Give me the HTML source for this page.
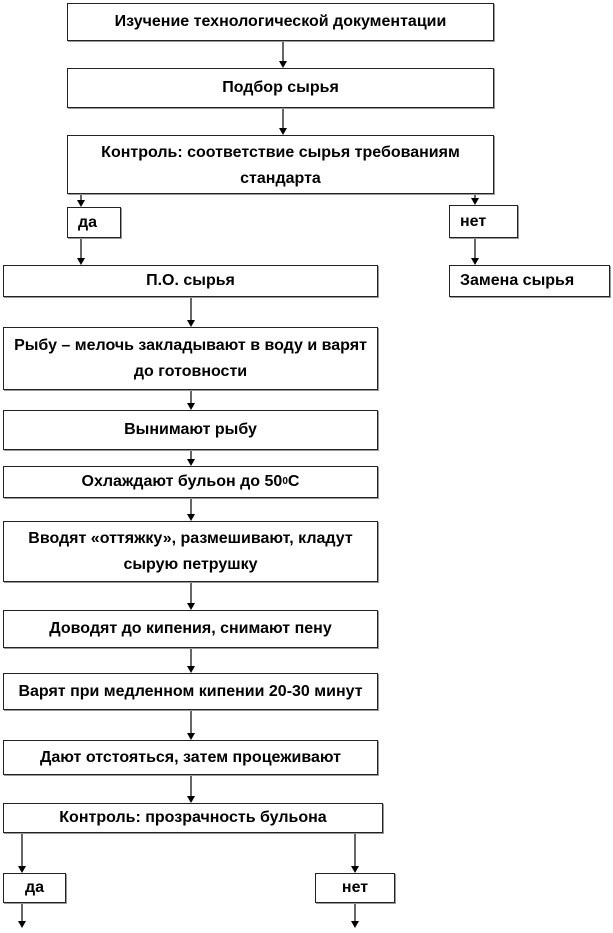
<!DOCTYPE html>
<html><head><meta charset="utf-8"><style>
body{margin:0;width:613px;height:933px;background:#fff;position:relative;overflow:hidden;font-family:"Liberation Sans",sans-serif;}
.b{position:absolute;box-sizing:border-box;border:1px solid #222;background:#fff;box-shadow:1px 1px 0 #999;font-weight:bold;font-size:16px;letter-spacing:0;display:flex;align-items:center;justify-content:center;text-align:center;line-height:26px;color:#000;white-space:nowrap}
.l{justify-content:flex-start;padding-left:10px}
svg{position:absolute;left:0;top:0}
</style></head><body>
<svg width="613" height="933">
<g stroke="#000" stroke-width="1.2">
<line x1="283" y1="41" x2="283" y2="62"/>
<line x1="283" y1="108" x2="283" y2="129"/>
<line x1="81" y1="172" x2="81" y2="201"/>
<line x1="475" y1="172" x2="475" y2="199"/>
<line x1="81" y1="238" x2="81" y2="259"/>
<line x1="475" y1="238" x2="475" y2="259"/>
<line x1="191" y1="297" x2="191" y2="321"/>
<line x1="191" y1="390" x2="191" y2="404"/>
<line x1="191" y1="450" x2="191" y2="460"/>
<line x1="191" y1="498" x2="191" y2="515"/>
<line x1="191" y1="582" x2="191" y2="604"/>
<line x1="191" y1="648" x2="191" y2="667"/>
<line x1="191" y1="710" x2="191" y2="734"/>
<line x1="191" y1="775" x2="191" y2="797"/>
<line x1="22" y1="833" x2="22" y2="867"/>
<line x1="355" y1="833" x2="355" y2="867"/>
<line x1="22" y1="903" x2="22" y2="922"/>
<line x1="355" y1="903" x2="355" y2="922"/>
</g>
<g fill="#000">
<path d="M279,61h8l-4,7z"/><path d="M279,128h8l-4,7z"/>
<path d="M77,200h8l-4,7z"/><path d="M471,198h8l-4,7z"/>
<path d="M77,258h8l-4,7z"/><path d="M471,258h8l-4,7z"/>
<path d="M187,320h8l-4,7z"/><path d="M187,403h8l-4,7z"/>
<path d="M187,459h8l-4,7z"/><path d="M187,514h8l-4,7z"/>
<path d="M187,603h8l-4,7z"/><path d="M187,666h8l-4,7z"/>
<path d="M187,733h8l-4,7z"/><path d="M187,796h8l-4,7z"/>
<path d="M18,866h8l-4,7z"/><path d="M351,866h8l-4,7z"/>
<path d="M18,921h8l-4,7z"/><path d="M351,921h8l-4,7z"/>
</g></svg>
<div class="b" style="left:67px;top:3px;width:427px;height:38px">Изучение технологической документации</div>
<div class="b" style="left:67px;top:68px;width:427px;height:40px">Подбор сырья</div>
<div class="b" style="left:67px;top:135px;width:427px;height:59px;align-items:flex-start;padding-top:4px">Контроль: соответствие сырья требованиям<br>стандарта</div>
<div class="b l" style="left:67px;top:207px;width:54px;height:31px">да</div>
<div class="b l" style="left:449px;top:205px;width:69px;height:33px">нет</div>
<div class="b" style="left:3px;top:265px;width:375px;height:32px">П.О. сырья</div>
<div class="b l" style="left:449px;top:265px;width:161px;height:32px">Замена сырья</div>
<div class="b" style="left:3px;top:327px;width:375px;height:63px">Рыбу – мелочь закладывают в воду и варят<br>до готовности</div>
<div class="b" style="left:3px;top:410px;width:375px;height:40px">Вынимают рыбу</div>
<div class="b" style="left:3px;top:466px;width:375px;height:32px">Охлаждают бульон до 50<sup style="font-size:10px;line-height:0">0</sup>С</div>
<div class="b" style="left:3px;top:521px;width:375px;height:61px">Вводят «оттяжку», размешивают, кладут<br>сырую петрушку</div>
<div class="b" style="left:3px;top:610px;width:375px;height:38px">Доводят до кипения, снимают пену</div>
<div class="b" style="left:3px;top:673px;width:375px;height:37px">Варят при медленном кипении 20-30 минут</div>
<div class="b" style="left:3px;top:740px;width:375px;height:35px">Дают отстояться, затем процеживают</div>
<div class="b" style="left:3px;top:803px;width:380px;height:30px">Контроль: прозрачность бульона</div>
<div class="b" style="left:3px;top:873px;width:63px;height:30px">да</div>
<div class="b" style="left:315px;top:873px;width:80px;height:30px">нет</div>
</body></html>
